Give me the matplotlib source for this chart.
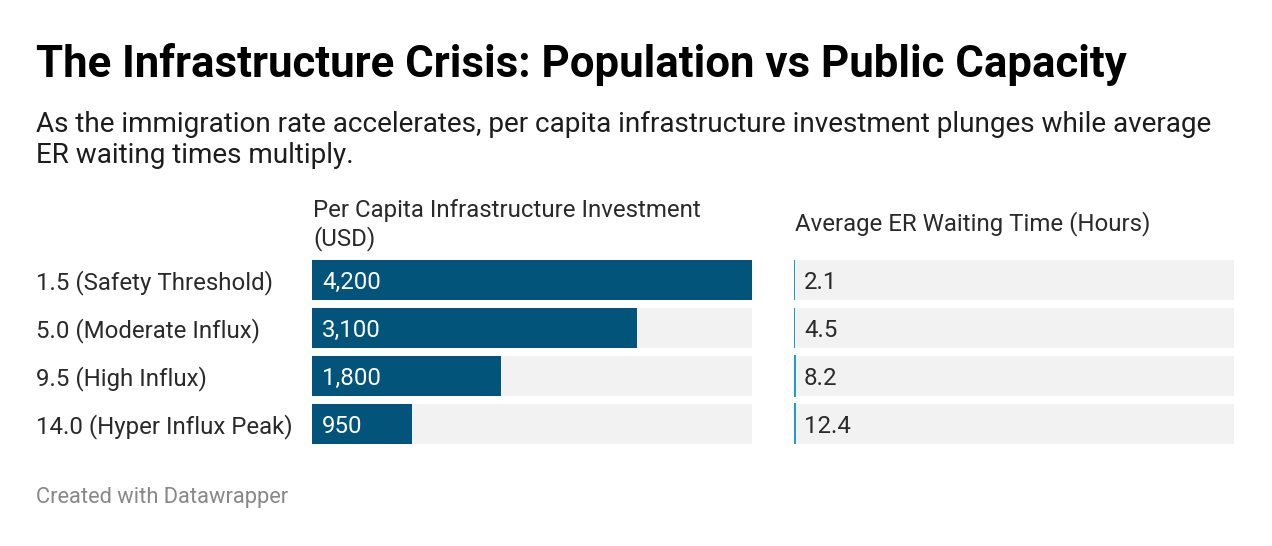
import matplotlib.pyplot as plt

plt.rcParams['font.family'] = ['Roboto', 'DejaVu Sans']

categories = ["1.5 (Safety Threshold)", "5.0 (Moderate Influx)",
              "9.5 (High Influx)", "14.0 (Hyper Influx Peak)"]
investment = [4200, 3100, 1800, 950]
er_wait = [2.1, 4.5, 8.2, 12.4]

W, H = 1272, 546
fig = plt.figure(figsize=(W / 100, H / 100), dpi=100)


def px(size):
    return size * 0.72


def ftext(x, y, s, **kw):
    fig.text(x / W, 1 - y / H, s, va='baseline', **kw)


def add_ax(x0, x1, y0, y1):
    return fig.add_axes([x0 / W, 1 - y1 / H, (x1 - x0) / W, (y1 - y0) / H])


ftext(36, 77, "The Infrastructure Crisis: Population vs Public Capacity",
      fontsize=px(43.8), fontweight='bold', color='#000000')
ftext(36, 132, "As the immigration rate accelerates, per capita infrastructure "
      "investment plunges while average", fontsize=px(27.9), color='#1d1d1d')
ftext(36, 163, "ER waiting times multiply.", fontsize=px(27.9), color='#1d1d1d')

ftext(313, 217, "Per Capita Infrastructure Investment", fontsize=px(24), color='#2a2a2a')
ftext(313, 245, "(USD)", fontsize=px(24), color='#2a2a2a')
ftext(795, 230, "Average ER Waiting Time (Hours)", fontsize=px(24), color='#2a2a2a')

ftext(36, 503, "Created with Datawrapper", fontsize=px(21.9), color='#888888')

n = len(categories)
rows = list(range(n))
h = 40 / 48
top, bottom = 260, 444
xmax = max(investment)

ax1 = add_ax(312, 752, top, bottom)
ax2 = add_ax(794, 1234, top, bottom)

for ax in (ax1, ax2):
    ax.barh(rows, [xmax] * n, height=h, color='#f2f2f2', linewidth=0)
    ax.set_xlim(0, xmax)
    ax.set_ylim(n - 1 + h / 2, -h / 2)
    ax.axis('off')

ax1.barh(rows, investment, height=h, color='#02547a', linewidth=0)
ax2.barh(rows, er_wait, height=h, color='#1d9bd1', edgecolor='#1d9bd1', linewidth=1.4)

for i, (cat, inv, er) in enumerate(zip(categories, investment, er_wait)):
    ax1.annotate(cat, (0, i), xytext=(-276, 0), textcoords='offset pixels',
                 va='center_baseline', ha='left', fontsize=px(24), color='#2a2a2a')
    ax1.annotate(f"{inv:,}", (0, i), xytext=(10, 0), textcoords='offset pixels',
                 va='center_baseline', ha='left', fontsize=px(24), color='white')
    ax2.annotate(f"{er}", (0, i), xytext=(10, 0), textcoords='offset pixels',
                 va='center_baseline', ha='left', fontsize=px(24), color='#2a2a2a')

fig.savefig('out.png', dpi=100, facecolor='white')
